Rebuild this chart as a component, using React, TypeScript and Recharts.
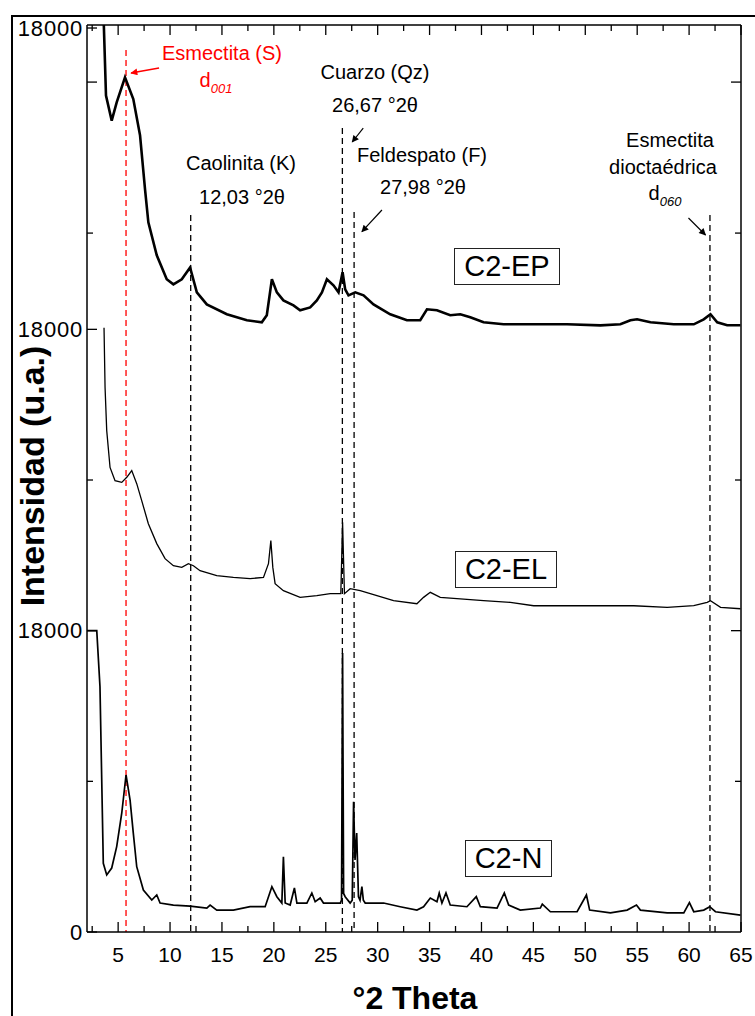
import { LineChart, Line, XAxis, YAxis, ReferenceLine } from "recharts";

const FONT = '"Liberation Sans", Arial, sans-serif';

// C2-EP (upper pattern), counts above its own baseline
const epTheta = [3.6, 3.83, 4.38, 4.86, 5.66, 6.46, 7.11, 7.59, 7.91, 8.72, 9.68, 10.32, 11.13, 11.93, 12.58, 13.54, 15.47, 17.4, 18.84, 19.32, 19.81, 20.29, 20.92, 21.89, 22.53, 23.5, 24.14, 24.63, 25.11, 25.74, 26.23, 26.62, 26.87, 27.19, 27.84, 28.64, 29.6, 31.21, 32.82, 34.1, 34.75, 35.71, 36.99, 37.96, 38.92, 40.2, 42.13, 45.03, 48.24, 51.46, 53.38, 54.35, 54.99, 56.28, 58.52, 60.45, 61.41, 62.06, 62.71, 63.67, 64.95];
const epCounts = [18600, 13960, 12470, 13560, 15050, 13760, 11590, 8360, 6390, 4420, 2990, 2690, 2990, 3700, 2210, 1490, 900, 540, 420, 840, 2990, 2210, 1730, 1430, 1140, 1310, 1730, 2210, 2990, 2630, 2210, 3410, 2390, 2030, 2210, 2030, 1490, 900, 540, 540, 1200, 1140, 840, 900, 720, 420, 300, 300, 300, 240, 300, 540, 600, 420, 300, 300, 600, 900, 420, 240, 240];

// C2-EL (middle pattern)
const elTheta = [3.64, 3.74, 3.9, 4.22, 4.7, 5.35, 5.83, 6.31, 6.79, 7.27, 7.91, 8.72, 9.52, 10.32, 11.13, 11.77, 12.25, 12.89, 14.5, 16.1, 17.71, 19.0, 19.48, 19.71, 19.9, 20.12, 20.92, 22.53, 24.14, 25.43, 26.45, 26.62, 26.8, 27.35, 28.32, 29.93, 31.53, 33.78, 34.42, 35.07, 36.03, 37.64, 40.2, 42.78, 45.03, 48.24, 51.46, 54.67, 57.89, 60.45, 61.74, 62.06, 63.03, 64.95];
const elCounts = [18100, 14530, 11950, 9750, 8960, 8860, 9160, 9560, 8780, 7770, 6390, 5200, 4300, 3880, 3780, 4000, 3880, 3580, 3290, 3180, 3110, 3180, 4000, 5380, 3780, 2810, 2390, 1990, 2090, 2210, 2210, 6470, 2210, 2510, 2390, 2090, 1790, 1610, 1990, 2290, 1990, 1910, 1790, 1690, 1490, 1490, 1490, 1490, 1390, 1490, 1690, 1790, 1390, 1310];

// C2-N (lower pattern)
const nTheta = [2.0, 2.94, 3.25, 3.57, 3.9, 4.38, 4.86, 5.35, 5.76, 6.15, 6.46, 6.79, 7.43, 8.24, 8.72, 9.04, 10.32, 11.93, 13.54, 13.86, 14.5, 16.1, 17.71, 19.16, 19.81, 20.29, 20.77, 20.92, 21.09, 21.57, 21.98, 22.22, 23.18, 23.66, 23.98, 24.46, 24.78, 26.4, 26.52, 26.62, 26.72, 26.87, 27.35, 27.55, 27.68, 27.82, 27.98, 28.15, 28.3, 28.48, 28.62, 28.8, 30.57, 32.17, 33.78, 34.42, 35.07, 35.71, 35.93, 36.19, 36.58, 36.99, 38.6, 39.5, 39.89, 41.5, 42.2, 42.62, 43.74, 45.67, 45.86, 46.64, 49.21, 50.11, 50.42, 52.42, 54.03, 54.93, 55.31, 57.89, 59.49, 60.03, 60.45, 61.41, 61.99, 62.54, 64.95];
const nCounts = [18000, 18000, 14650, 4100, 3410, 3820, 5100, 7110, 9380, 7880, 5910, 3900, 2510, 1910, 2210, 1730, 1610, 1550, 1430, 1610, 1310, 1310, 1510, 1510, 2710, 2110, 1730, 4500, 1730, 1610, 2630, 1730, 1730, 2330, 1810, 2030, 1730, 1730, 1900, 16670, 2300, 2110, 1730, 1900, 7780, 4300, 5910, 2100, 1900, 2710, 1900, 1730, 1730, 1510, 1310, 1510, 2030, 1810, 2330, 1730, 2330, 1610, 1510, 2110, 1510, 1430, 2330, 1610, 1310, 1430, 1670, 1210, 1210, 2210, 1310, 1140, 1310, 1610, 1310, 1140, 1140, 1750, 1210, 1310, 1510, 1210, 1010];

// vertical shift of each pattern in the stack
const stackOffsets = [36000, 18000, 0];

const xTicks = [2.5, 5, 7.5, 10, 12.5, 15, 17.5, 20, 22.5, 25, 27.5, 30, 32.5, 35, 37.5, 40, 42.5, 45, 47.5, 50, 52.5, 55, 57.5, 60, 62.5, 65];
const leftTicks = [0, 9000, 18000, 27000, 36000, 41750, 50770, 54000];
const leftTickLabels = ["0", "", "18000", "", "18000", "", "", "18000"];
const leftTickLen = [10, 6, 10, 6, 10, 6, 10, 10];
const rightTicks = [9000, 18000, 27000, 41750, 50770];
const rightTickLen = [6, 10, 6, 6, 10];

const toRows = (theta: number[], counts: number[], off: number) =>
  theta.map((t, i) => ({ x: t, y: counts[i] + off }));

const epData = toRows(epTheta, epCounts, stackOffsets[0]);
const elData = toRows(elTheta, elCounts, stackOffsets[1]);
const nData = toRows(nTheta, nCounts, stackOffsets[2]);

const BottomTick = ({ x, y, payload }: any) => {
  const major = payload.value % 5 === 0;
  return (
    <g>
      <line x1={x} x2={x} y1={y} y2={y - (major ? 10 : 6)} stroke="#000" strokeWidth={1.3} />
      {major && (
        <text x={x} y={y + 30} textAnchor="middle" fontSize={21} fontFamily={FONT} fill="#000">
          {payload.value}
        </text>
      )}
    </g>
  );
};

const TopTick = ({ x, y, payload }: any) => {
  const major = payload.value % 5 === 0;
  return <line x1={x} x2={x} y1={y} y2={y + (major ? 10 : 6)} stroke="#000" strokeWidth={1.3} />;
};

const LeftTick = ({ x, y, payload }: any) => {
  const i = leftTicks.indexOf(payload.value);
  return (
    <g>
      <line x1={x} x2={x + leftTickLen[i]} y1={y} y2={y} stroke="#000" strokeWidth={1.3} />
      {leftTickLabels[i] && (
        <text x={x - 4} y={y + 2} textAnchor="end" dominantBaseline="middle" fontSize={22} letterSpacing={0.8} fontFamily={FONT} fill="#000">
          {leftTickLabels[i]}
        </text>
      )}
    </g>
  );
};

const RightTick = ({ x, y, payload }: any) => {
  const i = rightTicks.indexOf(payload.value);
  return <line x1={x} x2={x - rightTickLen[i]} y1={y} y2={y} stroke="#000" strokeWidth={1.3} />;
};

function Note({ x, y, size = 20, color = "#000", bold = false, children }: any) {
  return (
    <div
      style={{
        position: "absolute", left: x, top: y, transform: "translate(-50%, -50%)",
        fontSize: size, color, fontFamily: FONT, whiteSpace: "nowrap", lineHeight: 1,
        fontWeight: bold ? "bold" : "normal",
      }}
    >
      {children}
    </div>
  );
}

function SampleBox({ left, top, width, label }: any) {
  return (
    <div
      style={{
        position: "absolute", left, top, width, height: 37, boxSizing: "border-box",
        border: "1px solid #222", background: "#fff", display: "flex", alignItems: "center",
        justifyContent: "center", fontFamily: FONT, fontSize: 29, lineHeight: 1,
      }}
    >
      {label}
    </div>
  );
}

const sub = { fontSize: 13, fontStyle: "italic", position: "relative" as const, top: 6 };

export default function App() {
  return (
    <div style={{ position: "absolute", left: 0, top: 0, width: 755, height: 1016, background: "#fff", overflow: "hidden" }}>
      <div style={{ position: "absolute", left: 11, top: 15, width: 760, height: 1020, borderTop: "2px solid #000", borderLeft: "2px solid #000" }} />
      <div style={{ position: "absolute", left: 0, top: 0 }}>
        <LineChart width={755} height={1016} margin={{ top: 15, right: 4, bottom: 44, left: 27 }}>
          <defs>
            <marker id="headRed" viewBox="0 0 10 10" refX="9" refY="5" markerWidth="9" markerHeight="7" orient="auto" markerUnits="userSpaceOnUse">
              <path d="M0,0 L10,5 L0,10 z" fill="#ff0000" />
            </marker>
            <marker id="headBlack" viewBox="0 0 10 10" refX="9" refY="5" markerWidth="9" markerHeight="7" orient="auto" markerUnits="userSpaceOnUse">
              <path d="M0,0 L10,5 L0,10 z" fill="#000" />
            </marker>
          </defs>
          <XAxis xAxisId="b" type="number" dataKey="x" domain={[2, 65]} allowDataOverflow ticks={xTicks} interval={0}
            height={40} tickSize={0} tickMargin={0} tickLine={false} tick={<BottomTick />}
            axisLine={{ stroke: "#000", strokeWidth: 1.5 }} />
          <XAxis xAxisId="t" orientation="top" type="number" dataKey="x" domain={[2, 65]} allowDataOverflow ticks={xTicks} interval={0}
            height={10} tickSize={0} tickMargin={0} tickLine={false} tick={<TopTick />}
            axisLine={{ stroke: "#000", strokeWidth: 1.5 }} />
          <YAxis yAxisId="l" type="number" domain={[0, 54180]} allowDataOverflow ticks={leftTicks} interval={0}
            width={60} tickSize={0} tickMargin={0} tickLine={false} tick={<LeftTick />}
            axisLine={{ stroke: "#000", strokeWidth: 1.5 }} />
          <YAxis yAxisId="r" orientation="right" type="number" domain={[0, 54180]} allowDataOverflow ticks={rightTicks} interval={0}
            width={10} tickSize={0} tickMargin={0} tickLine={false} tick={<RightTick />}
            axisLine={{ stroke: "#000", strokeWidth: 1.5 }} />

          <ReferenceLine xAxisId="b" yAxisId="l" segment={[{ x: 5.76, y: 52686 }, { x: 5.76, y: 0 }]} stroke="#ff2020" strokeWidth={1.5} strokeDasharray="6 4" />
          <ReferenceLine xAxisId="b" yAxisId="l" segment={[{ x: 11.99, y: 42830 }, { x: 11.99, y: 0 }]} stroke="#000" strokeWidth={1.3} strokeDasharray="6 4" />
          <ReferenceLine xAxisId="b" yAxisId="l" segment={[{ x: 26.6, y: 48027 }, { x: 26.6, y: 0 }]} stroke="#000" strokeWidth={1.3} strokeDasharray="6 4" />
          <ReferenceLine xAxisId="b" yAxisId="l" segment={[{ x: 27.73, y: 43009 }, { x: 27.73, y: 0 }]} stroke="#000" strokeWidth={1.3} strokeDasharray="6 4" />
          <ReferenceLine xAxisId="b" yAxisId="l" segment={[{ x: 62.01, y: 42830 }, { x: 62.01, y: 0 }]} stroke="#000" strokeWidth={1.3} strokeDasharray="6 4" />

          <ReferenceLine xAxisId="b" yAxisId="l" segment={[{ x: 8.94, y: 51611 }, { x: 6.24, y: 51312 }]} stroke="#ff0000" strokeWidth={1.5} markerEnd="url(#headRed)" />
          <ReferenceLine xAxisId="b" yAxisId="l" segment={[{ x: 28.61, y: 48027 }, { x: 27.55, y: 47191 }]} stroke="#000" strokeWidth={1.2} markerEnd="url(#headBlack)" />
          <ReferenceLine xAxisId="b" yAxisId="l" segment={[{ x: 30.41, y: 43129 }, { x: 28.48, y: 41833 }]} stroke="#000" strokeWidth={1.2} markerEnd="url(#headBlack)" />
          <ReferenceLine xAxisId="b" yAxisId="l" segment={[{ x: 59.94, y: 42651 }, { x: 61.58, y: 41635 }]} stroke="#000" strokeWidth={1.2} markerEnd="url(#headBlack)" />

          <Line xAxisId="b" yAxisId="l" data={epData} dataKey="y" type="linear" stroke="#000" strokeWidth={2.6} dot={false} isAnimationActive={false} />
          <Line xAxisId="b" yAxisId="l" data={elData} dataKey="y" type="linear" stroke="#000" strokeWidth={1.3} dot={false} isAnimationActive={false} />
          <Line xAxisId="b" yAxisId="l" data={nData} dataKey="y" type="linear" stroke="#000" strokeWidth={1.7} dot={false} isAnimationActive={false} />
        </LineChart>
      </div>

      <Note x={222} y={53} color="#ff0000">Esmectita (S)</Note>
      <Note x={216} y={80} color="#ff0000">d<span style={sub}>001</span></Note>
      <Note x={375} y={72}>Cuarzo (Qz)</Note>
      <Note x={375} y={105}>26,67 °2θ</Note>
      <Note x={241} y={163}>Caolinita (K)</Note>
      <Note x={242} y={197}>12,03 °2θ</Note>
      <Note x={422} y={155}>Feldespato (F)</Note>
      <Note x={423} y={187}>27,98 °2θ</Note>
      <Note x={670} y={140}>Esmectita</Note>
      <Note x={663} y={167}>dioctaédrica</Note>
      <Note x={665} y={193}>d<span style={sub}>060</span></Note>

      <SampleBox left={454} top={248} width={106} label="C2-EP" />
      <SampleBox left={455} top={551} width={102} label="C2-EL" />
      <SampleBox left={465} top={840} width={87} label="C2-N" />

      <Note x={415} y={998} size={32} bold>°2 Theta</Note>
      <div style={{ position: "absolute", left: 32, top: 476, transform: "translate(-50%, -50%) rotate(-90deg)", fontFamily: FONT, fontWeight: "bold", fontSize: 34, whiteSpace: "nowrap", lineHeight: 1 }}>
        Intensidad (u.a.)
      </div>
    </div>
  );
}
